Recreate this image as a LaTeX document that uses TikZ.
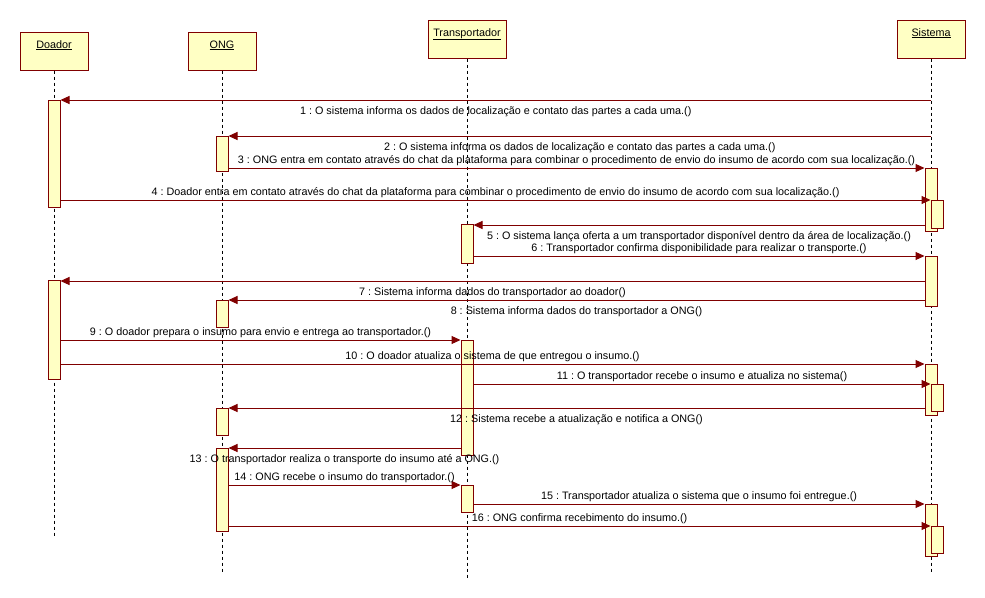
\documentclass[tikz,border=0pt]{standalone}
\usepackage{fontspec}
\setmainfont{Liberation Sans}
\usetikzlibrary{arrows.meta}
\definecolor{umlred}{RGB}{128,0,0}
\definecolor{umlfill}{RGB}{255,255,196}
\frenchspacing

\begin{document}
\begin{tikzpicture}[x=1pt, y=-1pt]
	\tikzstyle{every node}=[font=\fontsize{10.8}{13}\selectfont]
	\tikzstyle{head}=[draw=umlred, fill=umlfill, line width=1pt, minimum width=68, inner ysep=4pt, text height=12pt, text depth=18pt]
	\tikzstyle{bar}=[draw=umlred, fill=umlfill, line width=1pt, minimum width=12, inner sep=0pt, anchor=north]
	\tikzstyle{life}=[dash pattern=on 3pt off 3pt, line width=1pt]
	\tikzstyle{msg}=[draw=umlred, line width=1pt, -{Triangle[length=9pt, width=8pt]}]
	\tikzstyle{msgabove}=[midway, above, inner sep=2pt]
	\tikzstyle{msgbelow}=[midway, below, inner sep=6pt]
	\useasboundingbox (0,0) rectangle (985,597);

	% lifelines
	\node[head] (doador) at (54,51) {\underline{Doador}};
	\node[head] (ong) at (222,51) {\underline{ONG}};
	\node[head, minimum width=78] (transp) at (467,39) {\underline{Transportador}};
	\node[head] (sistema) at (931,39) {\underline{Sistema}};
	\coordinate (doadorEnd) at (54,537);
	\coordinate (ongEnd) at (222,573);
	\coordinate (transpEnd) at (467,578);
	\coordinate (sistemaEnd) at (931,573);
	\draw[life] (doador) -- (doadorEnd);
	\draw[life] (ong) -- (ongEnd);
	\draw[life] (transp) -- (transpEnd);
	\draw[life] (sistema) -- (sistemaEnd);

	% activations
	\node[bar, minimum height=107] (d1) at (54,100) {};
	\node[bar, minimum height=35] (o1) at (222,136) {};
	\node[bar, minimum height=63] (s1) at (931,168) {};
	\node[bar, minimum height=28] (s1n) at (937,200) {};
	\node[bar, minimum height=39] (t1) at (467,224) {};
	\node[bar, minimum height=50] (s2) at (931,256) {};
	\node[bar, minimum height=99] (d2) at (54,280) {};
	\node[bar, minimum height=27] (o2) at (222,300) {};
	\node[bar, minimum height=115] (t2) at (467,340) {};
	\node[bar, minimum height=51] (s3) at (931,364) {};
	\node[bar, minimum height=27] (s3n) at (937,384) {};
	\node[bar, minimum height=27] (o3) at (222,408) {};
	\node[bar, minimum height=83] (o4) at (222,448) {};
	\node[bar, minimum height=27] (t3) at (467,485) {};
	\node[bar, minimum height=52] (s4) at (931,504) {};
	\node[bar, minimum height=27] (s4n) at (937,526) {};

	% messages
	\draw[msg] (sistema |- 0,100) -- (d1.north east) node[msgbelow] {1 : O sistema informa os dados de localização e contato das partes a cada uma.()};
	\draw[msg] (sistema |- 0,136) -- (o1.north east) node[msgbelow] {2 : O sistema informa os dados de localização e contato das partes a cada uma.()};
	\draw[msg] (o1.east |- 0,168) -- (s1.north west) node[msgabove] {3 : ONG entra em contato através do chat da plataforma para combinar o procedimento de envio do insumo de acordo com sua localização.()};
	\draw[msg] (d1.east |- 0,200) -- (s1n.north west) node[msgabove] {4 : Doador entra em contato através do chat da plataforma para combinar o procedimento de envio do insumo de acordo com sua localização.()};
	\draw[msg] (s1.west |- 0,225) -- (t1.east |- 0,225) node[msgbelow] {5 : O sistema lança oferta a um transportador disponível dentro da área de localização.()};
	\draw[msg] (t1.east |- 0,256) -- (s2.north west) node[msgabove] {6 : Transportador confirma disponibilidade para realizar o transporte.()};
	\draw[msg] (s2.west |- 0,281) -- (d2.east |- 0,281) node[msgbelow] {7 : Sistema informa dados do transportador ao doador()};
	\draw[msg] (s2.west |- 0,300) -- (o2.north east) node[msgbelow] {8 : Sistema informa dados do transportador a ONG()};
	\draw[msg] (d2.east |- 0,340) -- (t2.north west) node[msgabove] {9 : O doador prepara o insumo para envio e entrega ao transportador.()};
	\draw[msg] (d2.east |- 0,364) -- (s3.north west) node[msgabove] {10 : O doador atualiza o sistema de que entregou o insumo.()};
	\draw[msg] (t2.east |- 0,384) -- (s3n.north west) node[msgabove] {11 : O transportador recebe o insumo e atualiza no sistema()};
	\draw[msg] (s3.west |- 0,408) -- (o3.north east) node[msgbelow] {12 : Sistema recebe a atualização e notifica a ONG()};
	\draw[msg] (t2.west |- 0,448) -- (o4.north east) node[msgbelow] {13 : O transportador realiza o transporte do insumo até a ONG.()};
	\draw[msg] (o4.east |- 0,485) -- (t3.north west) node[msgabove] {14 : ONG recebe o insumo do transportador.()};
	\draw[msg] (t3.east |- 0,504) -- (s4.north west) node[msgabove] {15 : Transportador atualiza o sistema que o insumo foi entregue.()};
	\draw[msg] (o4.east |- 0,526) -- (s4n.north west) node[msgabove] {16 : ONG confirma recebimento do insumo.()};
\end{tikzpicture}
\end{document}
